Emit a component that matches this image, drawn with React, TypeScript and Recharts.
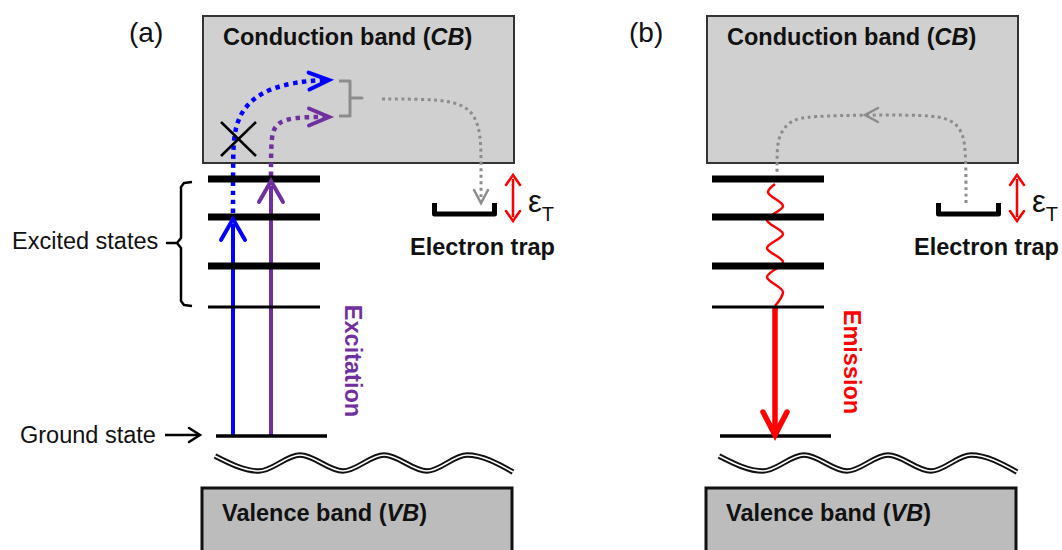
import { ComposedChart, Line, ReferenceArea, Scatter, XAxis, YAxis } from 'recharts'

// Energy-level scheme drawn on a pair of hidden linear axes (1 unit = 1 px).
const WIDTH = 1062
const HEIGHT = 550

const BLUE = '#0000ff'
const PURPLE = '#7030a0'
const RED = '#ff0000'
const GREY = '#8c8c8c'
const INK = '#000000'
const CB_FILL = '#d0d0d0'
const VB_FILL = '#bcbcbc'
const FONT = '"Liberation Sans", Arial, Helvetica, sans-serif'

type Pt = { x: number; y: number }
type Head = Pt & { angle: number }
type Label = Pt & { text: string }

// panel (b) repeats the band / level layout of panel (a), moved right
const PANEL_B_SHIFT = 504

// ---- shared layout, panel (a) coordinates ----
const CB_BOX = { x1: 203, x2: 514, y1: 16, y2: 163 }
const VB_BOX = { x1: 202, x2: 512, y1: 488, y2: 562 }
const LEVEL_SPAN = [208, 320]
const THICK_LEVELS = [179, 217, 266]
const THIN_LEVELS = [307]
const GROUND_SPAN = [216, 327]
const GROUND_LEVEL = 436

// axis break between the ground state and the valence band
const BREAK_WAVE: Pt[] = [
  { x: 215, y: 456 },
  { x: 259, y: 471 },
  { x: 300, y: 455 },
  { x: 343, y: 471 },
  { x: 384, y: 455 },
  { x: 427, y: 471 },
  { x: 467, y: 455 },
  { x: 513, y: 472 },
]

const TRAP: Pt[] = [
  { x: 434.5, y: 203 },
  { x: 434.5, y: 214 },
  { x: 494.5, y: 214 },
  { x: 494.5, y: 203 },
]
const TRAP_DEPTH: Pt[] = [
  { x: 513, y: 179 },
  { x: 513, y: 217 },
]
const TRAP_DEPTH_HEADS: Head[] = [
  { x: 513, y: 175, angle: -90 },
  { x: 513, y: 221, angle: 90 },
]

const BAND_TITLES = [
  { x: 223, y: 45, name: 'Conduction band', abbr: 'CB' },
  { x: 222, y: 521, name: 'Valence band', abbr: 'VB' },
]
const TRAP_LABEL: Label[] = [{ x: 410, y: 255, text: 'Electron trap' }]
const TRAP_ENERGY: Pt[] = [{ x: 528, y: 212 }]

// ---- panel-specific marks ----
const PANEL_TAGS: Label[] = [
  { x: 129, y: 42, text: '(a)' },
  { x: 629, y: 42, text: '(b)' },
]
const SIDE_LABELS: Label[] = [
  { x: 12, y: 249, text: 'Excited states' },
  { x: 20, y: 443, text: 'Ground state' },
]
const VERTICAL_LABELS = [
  { x: 353, y: 361, text: 'Excitation', color: PURPLE },
  { x: 852, y: 362, text: 'Emission', color: RED },
]

// (a) excitation
const BLUE_JUMP: Pt[] = [
  { x: 233, y: 436 },
  { x: 233, y: 224 },
]
const PURPLE_JUMP: Pt[] = [
  { x: 271, y: 436 },
  { x: 271, y: 186 },
]
const BLUE_ESCAPE: Pt[] = [
  { x: 233, y: 213 },
  { x: 233, y: 160 },
  { x: 234, y: 128 },
  { x: 246, y: 103 },
  { x: 272, y: 87 },
  { x: 305, y: 81 },
  { x: 324, y: 80 },
]
const PURPLE_ESCAPE: Pt[] = [
  { x: 271, y: 176 },
  { x: 271, y: 145 },
  { x: 273, y: 127 },
  { x: 285, y: 119 },
  { x: 305, y: 117 },
  { x: 324, y: 117 },
]
const CB_BRACE: Pt[] = [
  { x: 339, y: 81 },
  { x: 350, y: 81 },
  { x: 350, y: 98 },
  { x: 362, y: 98 },
  { x: 350, y: 98 },
  { x: 350, y: 116 },
  { x: 339, y: 116 },
]
const CAPTURE_PATH: Pt[] = [
  { x: 382, y: 99 },
  { x: 420, y: 99 },
  { x: 455, y: 101 },
  { x: 474, y: 112 },
  { x: 481, y: 135 },
  { x: 481, y: 165 },
  { x: 481, y: 197 },
]
const BLOCKED_A: Pt[] = [
  { x: 221, y: 122 },
  { x: 256, y: 156 },
]
const BLOCKED_B: Pt[] = [
  { x: 221, y: 156 },
  { x: 256, y: 122 },
]
const STATES_BRACE: Pt[] = [
  { x: 192, y: 182 },
  { x: 184, y: 183 },
  { x: 181, y: 187 },
  { x: 181, y: 238 },
  { x: 177, y: 243 },
  { x: 167, y: 243 },
  { x: 177, y: 243 },
  { x: 181, y: 248 },
  { x: 181, y: 301 },
  { x: 184, y: 305 },
  { x: 192, y: 306 },
]
const GROUND_POINTER: Pt[] = [
  { x: 165, y: 435 },
  { x: 198, y: 435 },
]

// (b) relaxation, emission, thermal release
const RELAX_WAVE: Pt[] = [
  { x: 775, y: 184 },
  { x: 768, y: 192 },
  { x: 783, y: 206 },
  { x: 767, y: 220 },
  { x: 783, y: 234 },
  { x: 767, y: 248 },
  { x: 783, y: 262 },
  { x: 767, y: 277 },
  { x: 783, y: 292 },
  { x: 775, y: 306 },
]
const EMISSION: Pt[] = [
  { x: 775, y: 307 },
  { x: 775, y: 429 },
]
const RELEASE_PATH: Pt[] = [
  { x: 966, y: 203 },
  { x: 966, y: 160 },
  { x: 964, y: 132 },
  { x: 950, y: 118 },
  { x: 925, y: 115 },
  { x: 870, y: 115 },
  { x: 810, y: 116 },
  { x: 790, y: 120 },
  { x: 779, y: 135 },
  { x: 777, y: 150 },
  { x: 777, y: 172 },
]

const HEADS_BLUE: Head[] = [{ x: 233, y: 219, angle: -90 }]
const HEADS_PURPLE: Head[] = [{ x: 271, y: 181, angle: -90 }]
const HEADS_BLUE_DOT: Head[] = [{ x: 329, y: 80, angle: -3 }]
const HEADS_PURPLE_DOT: Head[] = [{ x: 329, y: 117, angle: 0 }]
const HEADS_GREY: Head[] = [
  { x: 481, y: 203, angle: 90 },
  { x: 865, y: 115, angle: 180 },
]
const HEADS_POINTER: Head[] = [{ x: 200, y: 435, angle: 0 }]
const HEADS_EMISSION: Head[] = [{ x: 775, y: 435, angle: 90 }]

const shift = <T extends Pt>(pts: T[], dx: number): T[] => pts.map((p) => ({ ...p, x: p.x + dx }))
const span = (xs: number[], y: number): Pt[] => [
  { x: xs[0], y },
  { x: xs[1], y },
]

function stroke(
  key: string,
  data: Pt[],
  color: string,
  width: number,
  opts: { type?: any; dash?: string; cap?: 'butt' | 'round' | 'square' } = {},
) {
  return (
    <Line
      key={key}
      data={data}
      dataKey="y"
      type={opts.type ?? 'linear'}
      stroke={color}
      strokeWidth={width}
      strokeDasharray={opts.dash}
      strokeLinecap={opts.cap ?? 'butt'}
      strokeLinejoin="round"
      dot={false}
      activeDot={false}
      legendType="none"
      isAnimationActive={false}
    />
  )
}

function heads(key: string, data: Head[], color: string, len: number, half: number, width: number) {
  return (
    <Scatter
      key={key}
      data={data}
      isAnimationActive={false}
      legendType="none"
      shape={(p: any) => {
        const d = p.payload ?? p
        return (
          <path
            d={`M${-len},${-half}L0,0L${-len},${half}`}
            transform={`translate(${p.cx},${p.cy}) rotate(${d.angle})`}
            fill="none"
            stroke={color}
            strokeWidth={width}
            strokeLinecap="round"
            strokeLinejoin="miter"
          />
        )
      }}
    />
  )
}

function labels(key: string, data: Label[], size: number, weight: string) {
  return (
    <Scatter
      key={key}
      data={data}
      isAnimationActive={false}
      legendType="none"
      shape={(p: any) => {
        const d = p.payload ?? p
        return (
          <text x={p.cx} y={p.cy} fontFamily={FONT} fontSize={size} fontWeight={weight} fill="#111">
            {d.text}
          </text>
        )
      }}
    />
  )
}

function box(key: string, b: typeof CB_BOX, fill: string, edge: string, width: number) {
  return (
    <ReferenceArea
      key={key}
      x1={b.x1}
      x2={b.x2}
      y1={b.y1}
      y2={b.y2}
      fill={fill}
      fillOpacity={1}
      stroke={edge}
      strokeWidth={width}
      ifOverflow="visible"
    />
  )
}

function panelFrame(tag: string, dx: number) {
  const cb = { ...CB_BOX, x1: CB_BOX.x1 + dx, x2: CB_BOX.x2 + dx }
  const vb = { ...VB_BOX, x1: VB_BOX.x1 + dx, x2: VB_BOX.x2 + dx }
  return [box(`${tag}-cb`, cb, CB_FILL, '#333', 2), box(`${tag}-vb`, vb, VB_FILL, '#111', 3)]
}

function panelLevels(tag: string, dx: number) {
  const wave = shift(BREAK_WAVE, dx)
  return [
    ...THICK_LEVELS.map((y, i) => stroke(`${tag}-lv${i}`, shift(span(LEVEL_SPAN, y), dx), INK, 7)),
    ...THIN_LEVELS.map((y, i) => stroke(`${tag}-tl${i}`, shift(span(LEVEL_SPAN, y), dx), INK, 3)),
    stroke(`${tag}-gs`, shift(span(GROUND_SPAN, GROUND_LEVEL), dx), INK, 3.5),
    stroke(`${tag}-wo`, wave, '#111', 5.5, { type: 'monotoneX' }),
    stroke(`${tag}-wi`, wave, '#fff', 1.6, { type: 'monotoneX' }),
    stroke(`${tag}-trap`, shift(TRAP, dx), INK, 5, { cap: 'butt' }),
    stroke(`${tag}-depth`, shift(TRAP_DEPTH, dx), RED, 2.5),
    heads(`${tag}-depth-h`, shift(TRAP_DEPTH_HEADS, dx), RED, 10, 7, 2.5),
  ]
}

function panelText(tag: string, dx: number) {
  return [
    <Scatter
      key={`${tag}-titles`}
      data={shift(BAND_TITLES, dx)}
      isAnimationActive={false}
      legendType="none"
      shape={(p: any) => {
        const d = p.payload ?? p
        return (
          <text x={p.cx} y={p.cy} fontFamily={FONT} fontSize={23.5} fontWeight="bold" fill="#111">
            {d.name} (<tspan fontStyle="italic">{d.abbr}</tspan>)
          </text>
        )
      }}
    />,
    labels(`${tag}-trap-l`, shift(TRAP_LABEL, dx), 23.5, 'bold'),
    <Scatter
      key={`${tag}-eps`}
      data={shift(TRAP_ENERGY, dx)}
      isAnimationActive={false}
      legendType="none"
      shape={(p: any) => (
        <text x={p.cx} y={p.cy} fontFamily={FONT} fill="#111">
          <tspan fontSize={31}>ε</tspan>
          <tspan fontSize={20} dy={9}>
            T
          </tspan>
        </text>
      )}
    />,
  ]
}

export default function App() {
  return (
    <div style={{ position: 'absolute', left: 0, top: 0, background: '#fff' }}>
      <ComposedChart width={WIDTH} height={HEIGHT} margin={{ top: 0, right: 0, bottom: 0, left: 0 }}>
        <XAxis dataKey="x" type="number" domain={[0, WIDTH]} allowDataOverflow hide />
        <YAxis dataKey="y" type="number" domain={[0, HEIGHT]} allowDataOverflow reversed hide />

        {panelFrame('a', 0)}
        {panelFrame('b', PANEL_B_SHIFT)}

        {/* (a) excitation into the states and escape to the CB */}
        {stroke('blue-esc', BLUE_ESCAPE, BLUE, 4.5, { type: 'basis', dash: '4.5 4.5' })}
        {stroke('purple-esc', PURPLE_ESCAPE, PURPLE, 4.5, { type: 'basis', dash: '4.5 4.5' })}
        {stroke('capture', CAPTURE_PATH, GREY, 3, { type: 'basis', dash: '3 3.5' })}
        {stroke('cb-brace', CB_BRACE, GREY, 3)}
        {stroke('block-a', BLOCKED_A, INK, 2.5)}
        {stroke('block-b', BLOCKED_B, INK, 2.5)}
        {stroke('blue-jump', BLUE_JUMP, BLUE, 4)}
        {stroke('purple-jump', PURPLE_JUMP, PURPLE, 4)}
        {stroke('states-brace', STATES_BRACE, INK, 2.5)}
        {stroke('pointer', GROUND_POINTER, INK, 2.5)}

        {/* (b) relaxation, emission and thermal release from the trap */}
        {stroke('release', RELEASE_PATH, GREY, 3, { type: 'basis', dash: '3 3.5' })}
        {stroke('relax', RELAX_WAVE, RED, 2.5, { type: 'monotoneY' })}
        {stroke('emission', EMISSION, RED, 5.5)}

        {panelLevels('a', 0)}
        {panelLevels('b', PANEL_B_SHIFT)}

        {heads('h-blue', HEADS_BLUE, BLUE, 21, 12, 4)}
        {heads('h-purple', HEADS_PURPLE, PURPLE, 21, 12, 4)}
        {heads('h-blue-dot', HEADS_BLUE_DOT, BLUE, 20, 8.5, 4)}
        {heads('h-purple-dot', HEADS_PURPLE_DOT, PURPLE, 20, 8.5, 4)}
        {heads('h-grey', HEADS_GREY, GREY, 13, 7, 2.5)}
        {heads('h-pointer', HEADS_POINTER, INK, 11, 7, 2.5)}
        {heads('h-emission', HEADS_EMISSION, RED, 23, 12, 5.5)}

        {labels('tags', PANEL_TAGS, 28, 'normal')}
        {labels('side', SIDE_LABELS, 23.5, 'normal')}
        {panelText('a', 0)}
        {panelText('b', PANEL_B_SHIFT)}
        <Scatter
          data={VERTICAL_LABELS}
          isAnimationActive={false}
          legendType="none"
          shape={(p: any) => {
            const d = p.payload ?? p
            return (
              <text
                x={p.cx}
                y={p.cy}
                transform={`rotate(90 ${p.cx} ${p.cy})`}
                textAnchor="middle"
                dominantBaseline="central"
                fontFamily={FONT}
                fontSize={23.5}
                fontWeight="bold"
                fill={d.color}
              >
                {d.text}
              </text>
            )
          }}
        />
      </ComposedChart>
    </div>
  )
}
